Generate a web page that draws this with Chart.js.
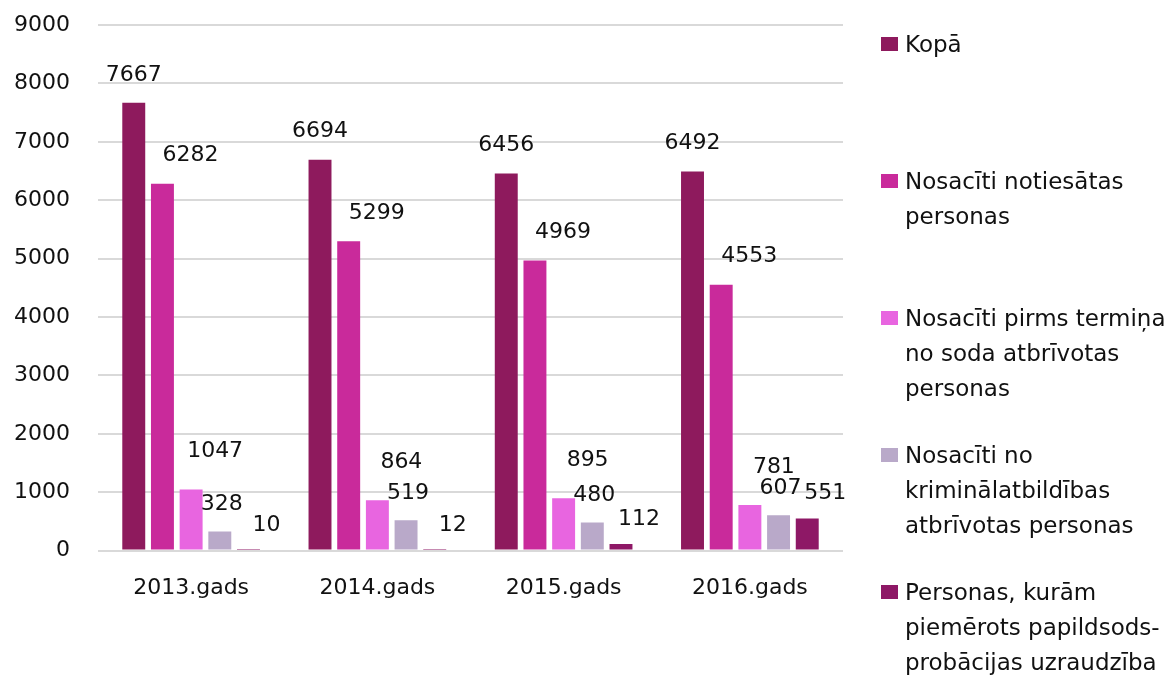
<!DOCTYPE html>
<html>
<head>
<meta charset="utf-8">
<script src="https://cdn.jsdelivr.net/npm/chart.js@4"></script>
<style>
  html, body { margin: 0; padding: 0; background: #fff; overflow: hidden; }
  body { width: 1175px; height: 677px; position: relative; font-family: "DejaVu Sans", sans-serif; }
  #wrap { position: absolute; left: 0; top: 0; width: 860px; height: 677px; }
  #legend { position: absolute; left: 0; top: 0; width: 1175px; height: 677px; pointer-events: none; }
  .item { position: absolute; left: 881px; font-size: 23px; line-height: 35px; color: #111; white-space: nowrap; }
  .box { position: absolute; left: 0; top: 10px; width: 17px; height: 14px; }
  .txt { position: absolute; left: 24px; top: 0; }
</style>
</head>
<body>
<div id="wrap"><canvas id="chart"></canvas></div>
<div id="legend"></div>
<script>
// categories + series
const years = ['2013.gads', '2014.gads', '2015.gads', '2016.gads'];
const seriesNames = [
    ['Kopā'],
    ['Nosacīti notiesātas', 'personas'],
    ['Nosacīti pirms termiņa', 'no soda atbrīvotas', 'personas'],
    ['Nosacīti no', 'kriminālatbildības', 'atbrīvotas personas'],
    ['Personas, kurām', 'piemērots papildsods-', 'probācijas uzraudzība']
];
const kopa = [7667, 6694, 6456, 6492];
const notiesatas = [6282, 5299, 4969, 4553];
const pirmsTermina = [1047, 864, 895, 781];
const noKriminal = [328, 519, 480, 607];
const probacija = [10, 12, 112, 551];
const colours = ['#8e1a5d', '#c92a9b', '#e865e0', '#b9a9c9', '#8e1866'];

// label nudges per series (labels sit a bit off the bars like in the original)
const labelDx = [0, 28, 24, 2, 18];
const labelDy = [28, 28, 38, 27, 25];

const valueLabels = {
    id: 'valueLabels',
    afterDatasetsDraw(chart) {
        const ctx = chart.ctx;
        ctx.save();
        ctx.font = '22px "DejaVu Sans"';
        ctx.fillStyle = '#111';
        ctx.textAlign = 'center';
        ctx.textBaseline = 'middle';
        chart.data.datasets.forEach((ds, i) => {
            chart.getDatasetMeta(i).data.forEach((bar, j) => {
                ctx.fillText(String(ds.data[j]), bar.x + labelDx[i], bar.y - labelDy[i]);
            });
        });
        ctx.restore();
    }
};

const allSeries = [kopa, notiesatas, pirmsTermina, noKriminal, probacija];

new Chart(document.getElementById('chart').getContext('2d'), {
    type: 'bar',
    data: {
        labels: years,
        datasets: allSeries.map((vals, i) => ({
            label: seriesNames[i].join(' '),
            data: vals,
            backgroundColor: colours[i],
            categoryPercentage: 0.77,
            barPercentage: 0.8
        }))
    },
    options: {
        responsive: true,
        maintainAspectRatio: false,
        animation: false,
        layout: { padding: { left: 14, right: 17, top: 25, bottom: 52 } },
        plugins: {
            legend: { display: false },
            tooltip: { enabled: false }
        },
        scales: {
            x: {
                grid: { display: false, drawTicks: false },
                border: { display: false },
                ticks: { color: '#111', padding: 24, font: { family: 'DejaVu Sans', size: 22 } }
            },
            y: {
                min: 0,
                max: 9000,
                afterFit: (scale) => { scale.width = 84; scale.paddingTop = 0; },
                ticks: {
                    stepSize: 1000,
                    color: '#111',
                    padding: 28,
                    font: { family: 'DejaVu Sans', size: 22 },
                    callback: (v) => String(v) // no thousands comma
                },
                grid: { color: '#d9d9d9', lineWidth: 2, drawTicks: false },
                border: { display: false }
            }
        }
    },
    plugins: [valueLabels]
});

// legend on the right, one entry per series
const legend = document.getElementById('legend');
seriesNames.forEach((lines, i) => {
    const item = document.createElement('div');
    item.className = 'item';
    item.style.top = (27 + i * 137) + 'px';
    item.innerHTML = '<div class="box" style="background:' + colours[i] + '"></div>' +
        '<div class="txt">' + lines.join('<br>') + '</div>';
    legend.appendChild(item);
});
</script>
</body>
</html>
